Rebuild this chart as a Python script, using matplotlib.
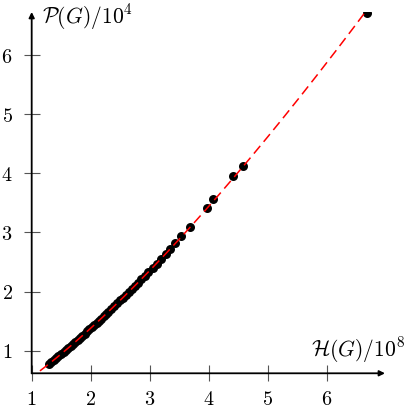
import matplotlib
matplotlib.use('Agg')
import matplotlib.pyplot as plt
import numpy as np

plt.rcParams['mathtext.fontset'] = 'cm'
plt.rcParams['font.family'] = 'serif'

# H(G)/10^8 and P(G)/10^4
h_vals = [1.29, 1.33, 1.37, 1.41, 1.45, 1.50, 1.54, 1.58, 1.62, 1.66,
          1.70, 1.74, 1.78, 1.82, 1.86, 1.90, 1.94, 1.98, 2.02, 2.06,
          2.10, 2.14, 2.18, 2.22, 2.26, 2.30, 2.35, 2.40, 2.45, 2.50,
          2.55, 2.60, 2.65, 2.70, 2.75, 2.80, 2.86, 2.92, 2.98, 3.05,
          3.12, 3.20, 3.27, 3.35, 3.43, 3.53, 3.68, 3.97, 4.08, 4.42,
          4.59, 6.68]
p_vals = [0.775, 0.807, 0.839, 0.871, 0.904, 0.945, 0.978, 1.012, 1.046, 1.080,
          1.114, 1.149, 1.183, 1.218, 1.254, 1.289, 1.325, 1.361, 1.397, 1.434,
          1.470, 1.507, 1.544, 1.581, 1.619, 1.657, 1.704, 1.752, 1.800, 1.849,
          1.897, 1.946, 1.995, 2.045, 2.095, 2.145, 2.206, 2.267, 2.328, 2.400,
          2.472, 2.556, 2.630, 2.714, 2.820, 2.940, 3.100, 3.410, 3.570, 3.950,
          4.130, 6.710]
x_ticks = [1, 2, 3, 4, 5, 6]
y_ticks = [1, 2, 3, 4, 5, 6]

fig = plt.figure(figsize=(4.11, 4.09), dpi=100)
ax = fig.add_axes([0.0771, 0.0873, 0.8596, 0.8834])

# power-law fit through the points
b, log_a = np.polyfit(np.log(h_vals), np.log(p_vals), 1)
xf = np.linspace(1.14, max(h_vals), 200)
yf = np.exp(log_a) * xf ** b

ax.scatter(h_vals, p_vals, s=42, color='black', zorder=2, linewidths=0)
ax.plot(xf, yf, color='red', lw=1.1, linestyle=(0, (6.5, 3.5)), zorder=3)

ax.set_xlim(1, 6.99)
ax.set_ylim(0.617, 6.73)

for s in ['top', 'right', 'left', 'bottom']:
    ax.spines[s].set_visible(False)

# axis lines with arrows
ax.annotate('', xy=(1, 0), xytext=(0, 0), xycoords='axes fraction',
            arrowprops=dict(arrowstyle='-|>', lw=1.3, color='black', mutation_scale=8,
                            shrinkA=0, shrinkB=0))
ax.annotate('', xy=(0, 1), xytext=(0, 0), xycoords='axes fraction',
            arrowprops=dict(arrowstyle='-|>', lw=1.3, color='black', mutation_scale=8,
                            shrinkA=0, shrinkB=0))

ax.set_xticks(x_ticks)
ax.set_yticks(y_ticks)
ax.set_xticklabels(['$%d$' % t for t in x_ticks])
ax.set_yticklabels(['$%d$' % t for t in y_ticks])
ax.tick_params(direction='inout', length=11.5, width=0.8, color='#555555',
               labelsize=14.5)
ax.tick_params(axis='x', pad=6)
ax.tick_params(axis='y', pad=8)

fig.text(42 / 411, 1 - 17 / 409, r'$\mathcal{P}(G)/10^4$', ha='left', va='center', fontsize=15.5)
fig.text(405 / 411, 1 - 350 / 409, r'$\mathcal{H}(G)/10^8$', ha='right', va='center', fontsize=15.5)

fig.savefig('out.png', dpi=100)
